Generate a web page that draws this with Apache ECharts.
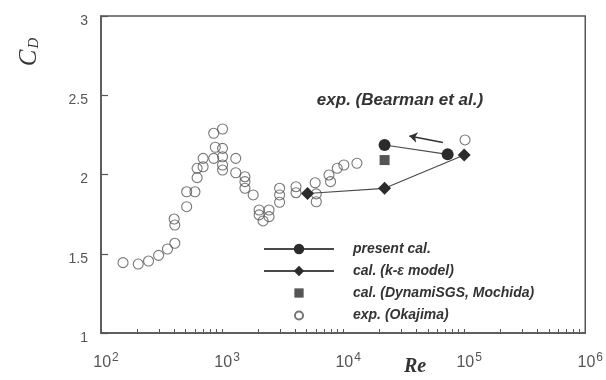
<!DOCTYPE html>
<html><head><meta charset="utf-8">
<script src="https://cdn.jsdelivr.net/npm/echarts@6/dist/echarts.min.js"></script>
<style>html,body{margin:0;padding:0;background:#fff}#c{width:606px;height:380px}</style>
</head><body><div id="c"></div>
<script>
// Data
const okajimaRe = [152,203,247,299,354,407,402,407,510,510,597,622,622,697,697,853,1009,879,1009,1009,853,1009,1009,1297,1297,1545,1545,1545,1807,2023,2023,2182,2443,2443,2987,2987,2987,4080,4080,5875,6000,6000,7640,7870,8940,10140,13000,101600];
const okajimaCd = [1.444,1.435,1.454,1.490,1.530,1.566,1.719,1.681,1.891,1.797,1.891,2.039,1.980,2.102,2.049,2.260,2.287,2.172,2.165,2.112,2.102,2.060,2.028,2.102,2.011,1.986,1.955,1.913,1.871,1.776,1.745,1.707,1.776,1.734,1.913,1.871,1.825,1.923,1.885,1.948,1.878,1.828,1.997,1.955,2.039,2.060,2.071,2.218];
const presentRe = [22000, 73000];
const presentCd = [2.186, 2.127];
const keRe = [5080, 22000, 100000];
const keCd = [1.880, 1.913, 2.123];
const sgsRe = [22000];
const sgsCd = [2.091];
const arrowRe = [35200, 66700];
const arrowCd = [2.243, 2.202];
const xLabelValues = [100, 1000, 10000, 100000, 1000000];
const xTickMultipliers = [1,2,3,4,5,6,7,8,9];
const legendNames = ['present cal.', 'cal. (k-ε model)', 'cal. (DynamiSGS, Mochida)', 'exp. (Okajima)'];

const zip = (a, b) => a.map((v, i) => [v, b[i]]);
const xTickValues = [];
for (let d = 100; d < 1e6; d *= 10) xTickMultipliers.forEach(m => xTickValues.push(m * d));
xTickValues.push(1e6);

const ink = '#4a4a4a';
const dark = '#2b2b2b';
const squareIcon = 'path://M-2,-2h0M0,0H10V10H0ZM12,12h0';
const circleIcon = 'path://M-3,-3h0M10,5A5,5,0,1,1,0,5A5,5,0,1,1,10,5ZM13,13h0';
const chart = echarts.init(document.getElementById('c'), null, {renderer: 'canvas'});
chart.setOption({
  backgroundColor: '#fff',
  animation: false,
  grid: {left: 101, right: 15, top: 16, bottom: 47, show: true, borderColor: '#555', borderWidth: 1.5, backgroundColor: 'transparent'},
  xAxis: {
    type: 'log', logBase: 10, min: 100, max: 1000000,
    axisLine: {show: true, lineStyle: {color: '#555', width: 1.5}},
    axisTick: {show: true, inside: true, length: 4, customValues: xTickValues, lineStyle: {color: '#555', width: 1}},
    minorTick: {show: false},
    splitLine: {show: false},
    axisLabel: {
      customValues: xLabelValues, margin: 19, color: '#555',
      formatter: v => '{b|10}{s|' + Math.round(Math.log10(v)) + '}',
      rich: {
        b: {fontFamily: 'Liberation Sans, Arial', fontSize: 16, color: '#555', padding: [0, 0, 0, 10]},
        s: {fontFamily: 'Liberation Sans, Arial', fontSize: 12, color: '#555', verticalAlign: 'top', padding: [0, 0, 9, 1]}
      }
    }
  },
  yAxis: {
    type: 'value', min: 1, max: 3, interval: 0.5,
    axisLine: {show: true, lineStyle: {color: '#555', width: 1.5}},
    axisTick: {show: true, inside: true, length: 7, lineStyle: {color: '#555', width: 1.2}},
    splitLine: {show: false},
    axisLabel: {margin: 13, color: '#555', fontFamily: 'Liberation Sans, Arial', fontSize: 14,
      verticalAlign: 'top', lineHeight: 10,
      formatter: v => String(v)}
  },
  legend: {
    orient: 'vertical', left: 258, top: 237, itemWidth: 70, itemHeight: 13, itemGap: 8,
    data: [
      {name: legendNames[0]},
      {name: legendNames[1]},
      {name: legendNames[2], icon: squareIcon},
      {name: legendNames[3], icon: circleIcon}
    ],
    textStyle: {fontFamily: 'Liberation Sans, Arial', fontStyle: 'italic', fontWeight: 'bold', fontSize: 14, color: '#333', padding: [0, 0, 0, 14]}
  },
  graphic: [
    {type: 'text', x: 400, y: 100, silent: true,
      style: {text: 'exp. (Bearman et al.)', align: 'center', verticalAlign: 'middle', fill: '#333',
        font: 'italic bold 17px "Liberation Sans", Arial'}},
    {type: 'text', x: 29, y: 52, rotation: Math.PI / 2, silent: true,
      style: {text: '{c|C}{d|D}', align: 'center', verticalAlign: 'middle',
        rich: {c: {fontFamily: 'Liberation Serif, Times New Roman', fontStyle: 'italic', fontSize: 25, fill: '#333'},
               d: {fontFamily: 'Liberation Serif, Times New Roman', fontStyle: 'italic', fontSize: 15, fill: '#333', padding: [11, 0, 0, 1]}}}},
    {type: 'text', x: 415, y: 367, silent: true,
      style: {text: 'Re', align: 'center', verticalAlign: 'middle', fill: '#333',
        font: 'italic bold 20px "Liberation Serif", "Times New Roman"'}}
  ],
  series: [
    {name: legendNames[3], type: 'scatter', z: 2, data: zip(okajimaRe, okajimaCd),
      symbol: 'circle', symbolSize: 10,
      itemStyle: {color: 'rgba(255,255,255,0)', borderColor: '#555', borderWidth: 1.1}},
    {name: legendNames[1], type: 'line', z: 3, data: zip(keRe, keCd),
      symbol: 'diamond', symbolSize: 13, showSymbol: true,
      lineStyle: {color: ink, width: 1.2}, itemStyle: {color: dark}},
    {name: legendNames[0], type: 'line', z: 3, data: zip(presentRe, presentCd),
      symbol: 'circle', symbolSize: 12, showSymbol: true,
      lineStyle: {color: ink, width: 1.2}, itemStyle: {color: dark},
      markLine: {silent: true, symbol: ['arrow', 'none'], symbolSize: 8,
        label: {show: false},
        lineStyle: {color: '#333', width: 1.5, type: 'solid'},
        data: [[{coord: [arrowRe[0], arrowCd[0]]}, {coord: [arrowRe[1], arrowCd[1]]}]]}},
    {name: legendNames[2], type: 'scatter', z: 3, data: zip(sgsRe, sgsCd),
      symbol: 'rect', symbolSize: 10, itemStyle: {color: dark}}
  ]
});
</script></body></html>
